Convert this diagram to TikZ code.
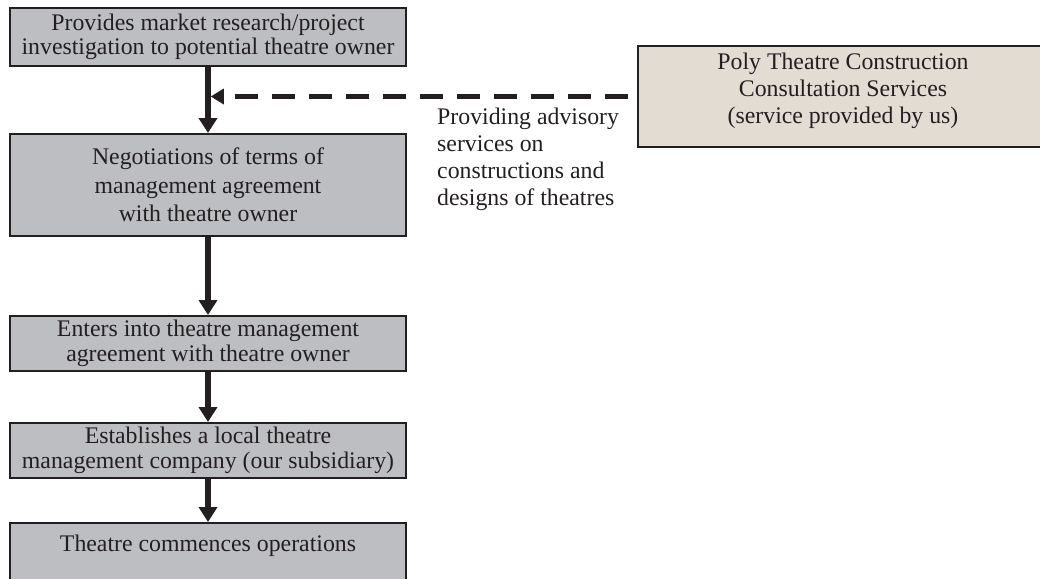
\documentclass[tikz,border=0pt]{standalone}
\usepackage{fontspec}
\setmainfont{Liberation Serif}
\usetikzlibrary{arrows.meta}
\definecolor{ink}{HTML}{231F20}
\definecolor{stepfill}{HTML}{BDBEC1}
\definecolor{svcfill}{HTML}{E2DCD3}
\newcommand{\flowfont}[1]{\fontsize{23.8}{#1}\selectfont}
\begin{document}
\begin{tikzpicture}[x=1pt,y=-1pt,
  stepbox/.style={draw=ink, line width=2pt, fill=stepfill, text=ink,
    align=center, anchor=north west, minimum width=396pt, inner sep=4pt},
  svcbox/.style={stepbox, fill=svcfill, minimum width=410pt},
  flow/.style={draw=ink, line width=5.5pt, -{Triangle[length=15pt,width=18pt]}},
  advice/.style={draw=ink, line width=5.5pt, dash pattern=on 23pt off 14pt,
    dash phase=28pt, -{Triangle[length=13pt,width=15pt]}},
]
\useasboundingbox (0,0) rectangle (1040,578);
\clip (0,0) rectangle (1040,578);

% main process steps
\node[stepbox, minimum height=58pt, font=\flowfont{24}] (s1) at (9,7)
  {Provides market research/project\\investigation to potential theatre owner};
\node[stepbox, minimum height=102pt, font=\flowfont{28.5}] (s2) at (9,133)
  {Negotiations of terms of\\management agreement\\ with theatre owner};
\node[stepbox, minimum height=55pt, font=\flowfont{25}] (s3) at (9,315)
  {Enters into theatre management\\agreement with theatre owner};
\node[stepbox, minimum height=55pt, font=\flowfont{25}] (s4) at (9,422)
  {Establishes a local theatre\\management company (our subsidiary)};
\node[stepbox, font=\flowfont{25}, inner ysep=8pt, text height=20pt,
  text depth=52pt] (s5) at (9,522) {Theatre commences operations};

% consultation service box
\node[svcbox, minimum height=101pt, font=\flowfont{27}, text depth=17pt] (svc) at (637,45)
  {Poly Theatre Construction\\Consultation Services\\(service provided by us)};

% advisory note
\node[text=ink, font=\flowfont{27}, align=left, anchor=north west, inner sep=0pt] (note) at (437,108)
  {Providing advisory\\services on\\constructions and\\designs of theatres};

% connectors
\draw[flow] (s1.south) -- (s2.north);
\draw[flow] (s2.south) -- (s3.north);
\draw[flow] (s3.south) -- (s4.north);
\draw[flow] (s4.south) -- (s5.north);
\coordinate (join) at ([xshift=2.75pt]s1.south |- svc.west);
\draw[advice] (svc.west) -- (join);
\end{tikzpicture}
\end{document}
